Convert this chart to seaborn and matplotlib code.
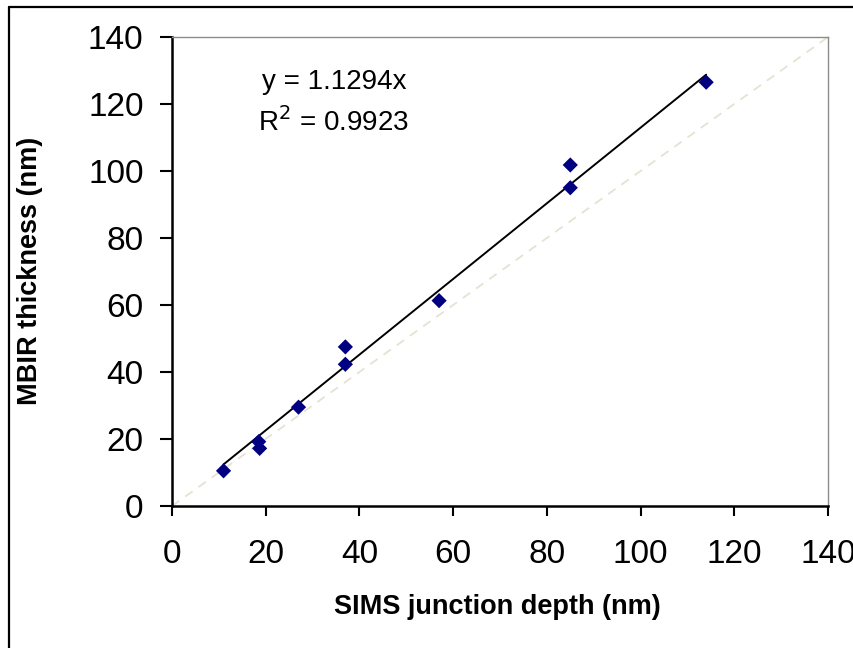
import numpy as np
import pandas as pd
import matplotlib
matplotlib.use("Agg")
import matplotlib.pyplot as plt
import seaborn as sns
from matplotlib.lines import Line2D

# ---- data ----
sims_depth = [11, 18.5, 18.7, 27, 37, 37, 57, 85, 85, 114]
mbir_thickness = [10.5, 19.2, 17.2, 29.5, 42.3, 47.5, 61.3, 101.8, 95.0, 126.5]
slope = 1.1294
r_squared = 0.9923
x_ticks = [0, 20, 40, 60, 80, 100, 120, 140]
y_ticks = [0, 20, 40, 60, 80, 100, 120, 140]

df = pd.DataFrame({"SIMS": sims_depth, "MBIR": mbir_thickness})

sns.set_theme(style="white", rc={"text.color": "black", "axes.labelcolor": "black",
                                 "xtick.color": "black", "ytick.color": "black"})
plt.rcParams["font.family"] = ["Liberation Sans", "DejaVu Sans"]

fig = plt.figure(figsize=(8.54, 6.48), dpi=100)
ax = fig.add_axes([172 / 854, 1 - 506 / 648, (828 - 172) / 854, (506 - 37) / 648])

# 1:1 reference line
lim = [x_ticks[0], x_ticks[-1]]
ax.plot(lim, lim, linestyle=(0, (5, 4)), color="#e6e2d3", linewidth=1.3, zorder=1)

# trendline over data range
xfit = np.array([min(sims_depth), max(sims_depth)])
ax.plot(xfit, slope * xfit, color="black", linewidth=1.4, zorder=2)

sns.scatterplot(data=df, x="SIMS", y="MBIR", marker="D", s=60, color="#000080",
                edgecolor="none", ax=ax, zorder=3)

ax.set_xlim(lim)
ax.set_ylim(y_ticks[0], y_ticks[-1])
ax.set_xticks(x_ticks)
ax.set_yticks(y_ticks)
ax.tick_params(axis="x", labelsize=24, length=7, width=1.5, direction="out", pad=17,
               color="black", labelcolor="black", bottom=True)
ax.tick_params(axis="y", labelsize=24, length=8.5, width=1.5, direction="out", pad=12,
               color="black", labelcolor="black", left=True)

for s in ["left", "bottom"]:
    ax.spines[s].set_color("black")
    ax.spines[s].set_linewidth(1.8)
for s in ["top", "right"]:
    ax.spines[s].set_color("#8c8c8c")
    ax.spines[s].set_linewidth(1.0)

ax.set_xlabel("")
ax.set_ylabel("")
fig.text(497 / 854, 1 - 607 / 648, "SIMS junction depth (nm)", ha="center", va="center",
         fontsize=19.5, fontweight="bold", color="black")
fig.text(30 / 854, 1 - 271 / 648, "MBIR thickness (nm)", ha="center", va="center",
         rotation=90, fontsize=19.5, fontweight="bold", color="black")

ax.text(262 / 854, 1 - 82 / 648, f"y = {slope}x", transform=fig.transFigure,
        ha="left", va="center", fontsize=20, color="black")
ax.text(258 / 854, 1 - 122 / 648, f"R$^2$ = {r_squared}", transform=fig.transFigure,
        ha="left", va="center", fontsize=20, color="black")

# chart-area border (cropped)
fig.add_artist(Line2D([9 / 854, 9 / 854], [0, 1 - 6.5 / 648], transform=fig.transFigure,
                      color="black", linewidth=1.6))
fig.add_artist(Line2D([9 / 854, 1], [1 - 6.5 / 648, 1 - 6.5 / 648], transform=fig.transFigure,
                      color="black", linewidth=1.6))

fig.savefig("out.png", dpi=100)
